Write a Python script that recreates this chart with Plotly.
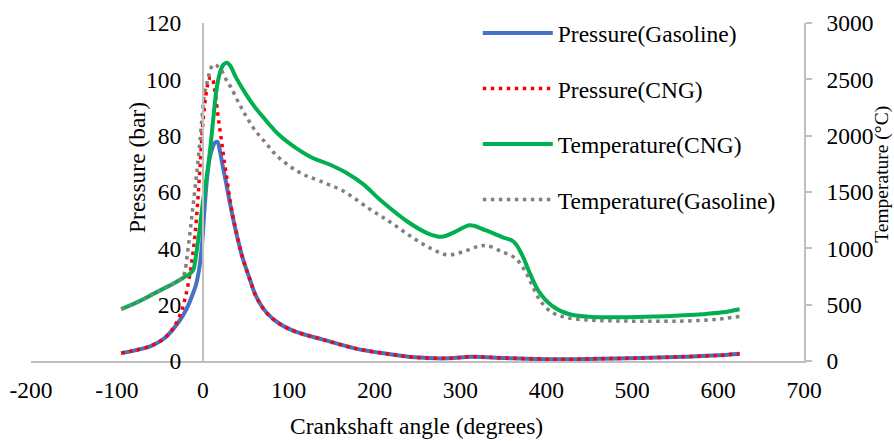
import plotly.graph_objects as go

# ---- data ----
ang_p_gas = [-95, -80, -60, -45, -34, -25, -18, -12, -8, -4, -1, 2, 5, 8, 11, 14, 17, 20, 23, 27, 31, 35, 39, 46, 54, 62, 74, 89, 109, 140, 177, 216, 247, 286, 313, 352, 410, 460, 508, 560, 600, 625]
p_gas = [2.8, 3.7, 5.4, 8, 11.5, 15.2, 19, 23.5, 27, 33, 41, 54, 65, 72, 75.5, 77.5, 77.8, 74.5, 69.6, 63.5, 57, 51, 45.5, 37, 29.7, 23, 17.2, 13.3, 10.3, 7.6, 4.5, 2.5, 1.3, 0.95, 1.5, 1.05, 0.6, 0.8, 1.05, 1.5, 2.0, 2.6]

ang_p_cng = [-95, -80, -60, -45, -34, -25, -20, -16, -12, -9, -6, -3, 0, 3, 6, 9, 11, 13, 15, 17, 19, 21, 23, 25, 28, 31, 35, 39, 46, 54, 62, 74, 89, 109, 140, 177, 216, 247, 286, 313, 352, 410, 460, 508, 560, 600, 625]
p_cng = [2.8, 3.7, 5.4, 8, 11.8, 17.5, 23, 29, 37, 45, 56, 70, 84, 93, 98.5, 100.8, 100.6, 98, 94, 89, 84, 80, 75.5, 71, 65, 58.5, 51.5, 45.8, 37, 29.7, 23, 17.2, 13.3, 10.3, 7.6, 4.5, 2.5, 1.3, 0.95, 1.5, 1.05, 0.6, 0.8, 1.05, 1.5, 2.0, 2.6]

ang_t_cng = [-95, -75, -57, -45, -33.5, -24, -14, -11, -8, -4, 0, 4, 8, 12, 16, 20, 24, 28, 32, 38.6, 50, 60, 70, 89, 108.7, 128, 147.6, 167, 186.7, 208, 239, 262.6, 278, 293.7, 311, 329, 348, 362, 371.7, 381.5, 391, 406.7, 426, 450, 470, 508, 531, 560, 582, 605, 625]
t_cng = [461, 527, 598, 645, 690, 733, 781, 810, 930, 1150, 1400, 1600, 1840, 2130, 2410, 2560, 2630, 2648, 2620, 2517, 2371, 2260, 2167, 2006, 1890, 1802, 1744, 1671, 1570, 1420, 1234, 1131, 1102, 1146, 1205, 1161, 1102, 1059, 942, 767, 621, 490, 417, 392, 388, 390, 396, 405, 415, 432, 460]

ang_t_gas = [-95, -75, -57, -45, -33.5, -24, -21, -18, -14, -11, -8, -6, -3.5, -1, 1.5, 5.5, 9, 12, 15, 18, 21, 27, 32.7, 42.4, 52, 62, 73.6, 85, 101, 117, 136, 163, 194, 218, 243, 266.5, 285, 303.5, 321, 331, 348, 364, 375.5, 383, 393, 406.7, 426, 453.5, 480, 508, 551, 590, 609, 625]
t_gas = [461, 527, 598, 645, 690, 733, 790, 945, 1200, 1400, 1600, 1740, 1933, 2150, 2342, 2487, 2590, 2630, 2628, 2610, 2590, 2500, 2430, 2283, 2152, 2036, 1933, 1831, 1730, 1656, 1598, 1511, 1350, 1234, 1102, 995, 942, 971, 1018, 1024, 971, 912, 796, 680, 534, 431, 382, 362, 356, 353, 353, 365, 379, 395]

x_ticks = list(range(-200, 701, 100))
x_labels = [str(v) for v in x_ticks]

FONT = "Liberation Serif"
FS = 23.5
AXC = "#BFBFBF"
SM = 1.0

fig = go.Figure()
fig.add_trace(go.Scatter(x=ang_p_gas, y=p_gas, name="Pressure(Gasoline)", mode="lines",
                         line=dict(color="#4472C4", width=4, shape="spline", smoothing=SM),
                         legendgroup="a", yaxis="y"))
fig.add_trace(go.Scatter(x=ang_p_cng, y=p_cng, name="Pressure(CNG)", mode="lines",
                         line=dict(color="#FF0000", width=3.5, dash="3.5px,4.5px", shape="spline", smoothing=SM),
                         legendgroup="b", yaxis="y"))
fig.add_trace(go.Scatter(x=ang_t_cng, y=t_cng, name="Temperature(CNG)", mode="lines",
                         line=dict(color="#00B050", width=4, shape="spline", smoothing=SM),
                         legendgroup="c", yaxis="y2"))
fig.add_trace(go.Scatter(x=ang_t_gas, y=t_gas, name="Temperature(Gasoline)", mode="lines",
                         line=dict(color="#808080", width=3.5, dash="3.5px,4.5px", shape="spline", smoothing=SM),
                         legendgroup="d", yaxis="y2"))

fig.update_layout(
    width=894, height=441,
    margin=dict(l=31, r=90, t=11, b=80),
    paper_bgcolor="white", plot_bgcolor="white",
    font=dict(family=FONT, size=FS, color="black"),
    showlegend=True,
    legend=dict(x=0.578, xanchor="left", y=1.035, yanchor="top",
                bgcolor="rgba(0,0,0,0)", tracegroupgap=22, itemwidth=70,
                font=dict(family=FONT, size=FS, color="black")),
    xaxis=dict(range=[-200, 700], tickvals=x_ticks, ticktext=x_labels, showgrid=False, zeroline=False,
               showline=True, linecolor=AXC, linewidth=1.5, ticks="", automargin=False,
               ticklabelstandoff=7, tickfont=dict(size=FS), anchor="y"),
    yaxis=dict(range=[0, 120], dtick=20, showgrid=False, zeroline=False,
               showline=True, linecolor=AXC, linewidth=1.5, ticks="", automargin=False,
               anchor="free", position=2/9, side="left",
               ticklabelstandoff=16, tickfont=dict(size=FS)),
    yaxis2=dict(range=[0, 3000], dtick=500, showgrid=False, zeroline=False,
                showline=True, linecolor=AXC, linewidth=1.5, ticks="outside",
                ticklen=6, tickcolor=AXC, tickwidth=1.5, automargin=False,
                overlaying="y", side="right", anchor="x",
                ticklabelstandoff=10, tickfont=dict(size=FS)),
    annotations=[
        dict(text="Crankshaft angle (degrees)", xref="paper", yref="paper",
             x=(416 - 31) / 773, y=-0.192, xanchor="center", yanchor="middle",
             showarrow=False, font=dict(size=FS)),
        dict(text="Pressure (bar)", xref="paper", yref="paper", textangle=-90,
             x=(137 - 31) / 773, y=0.571, xanchor="center", yanchor="middle",
             showarrow=False, font=dict(size=FS)),
        dict(text="Temperature (°C)", xref="paper", yref="paper", textangle=-90,
             x=(882 - 31) / 773, y=0.551, xanchor="center", yanchor="middle",
             showarrow=False, font=dict(size=19.5)),
    ],
)

fig.write_html("out.html")
